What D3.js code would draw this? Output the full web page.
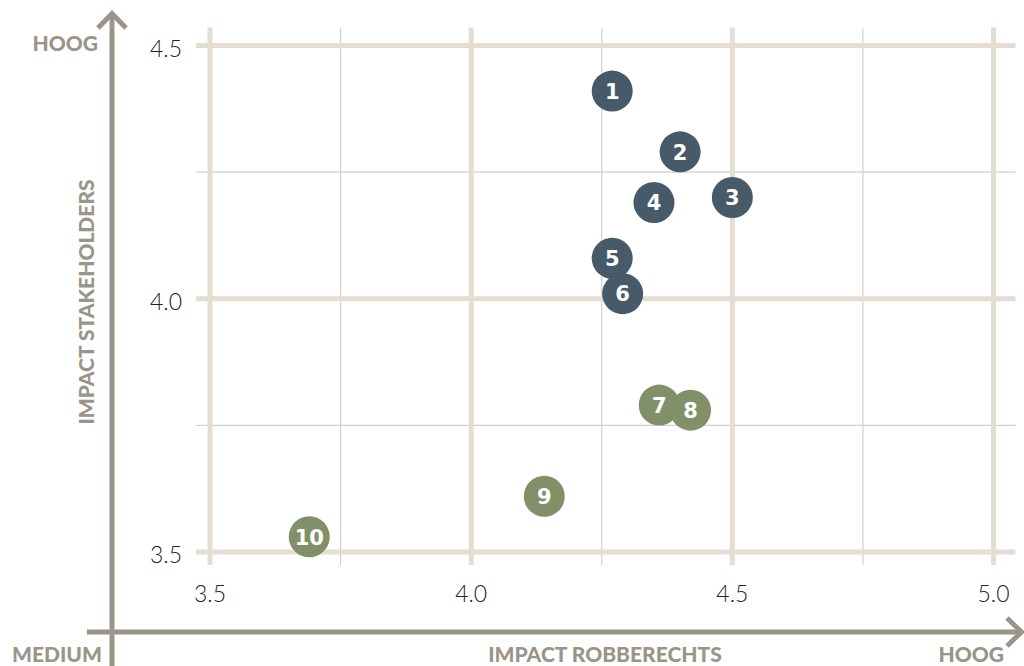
<!DOCTYPE html>
<html lang="nl">
<head>
    <meta charset="UTF-8">
    <title>Impact matrix</title>
    <script src="https://d3js.org/d3.v7.min.js"></script>
    <style>
        body {
            margin: 0;
            background: #fff;
        }

        svg {
            display: block;
        }

        .tick-label {
            font-family: Lato, "Open Sans", sans-serif;
            font-weight: 300;
            font-size: 23px;
            fill: #222;
        }

        .axis-label {
            font-family: Lato, "Open Sans", sans-serif;
            font-weight: 900;
            font-size: 21px;
            fill: #9b9488;
        }
    </style>
</head>
<body>
    <div id="chart"></div>

    <script>
        // data
        const ids = [1, 2, 3, 4, 5, 6, 7, 8, 9, 10];
        const robberechts = [4.27, 4.40, 4.50, 4.35, 4.27, 4.29, 4.36, 4.42, 4.14, 3.69];
        const stakeholders = [4.41, 4.29, 4.20, 4.19, 4.08, 4.01, 3.79, 3.78, 3.61, 3.53];
        const groups = ["top", "top", "top", "top", "top", "top", "mid", "mid", "mid", "mid"];

        const majorTicks = [3.5, 4.0, 4.5, 5.0];
        const minorTicks = [3.75, 4.25, 4.75];
        const yMajorTicks = [3.5, 4.0, 4.5];
        const yMinorTicks = [3.75, 4.25];

        const width = 1024;
        const height = 666;

        const x = d3.scaleLinear().domain([3.5, 5.0]).range([210, 993.5]);
        const y = d3.scaleLinear().domain([3.5, 4.5]).range([552, 45.5]);

        const color = d3.scaleOrdinal()
            .domain(["top", "mid"])
            .range(["#475a6a", "#82906a"]);

        const svg = d3.select("#chart").append("svg")
            .attr("width", width)
            .attr("height", height);

        const grid = svg.append("g");
        const [x0, x1] = x.range();
        const [y0, y1] = y.range();   // y0 bottom, y1 top

        // thin minor lines
        grid.selectAll("line.vminor")
            .data(minorTicks)
            .enter().append("line")
            .attr("x1", d => x(d)).attr("x2", d => x(d))
            .attr("y1", y1 - 17).attr("y2", y0 + 13)
            .attr("stroke", "#d2d0cc")
            .attr("stroke-width", 1.2);

        grid.selectAll("line.hminor")
            .data(yMinorTicks)
            .enter().append("line")
            .attr("x1", x0 - 14).attr("x2", x1 + 22)
            .attr("y1", d => y(d)).attr("y2", d => y(d))
            .attr("stroke", "#d2d0cc")
            .attr("stroke-width", 1.2);

        // thick beige major lines
        grid.selectAll("line.vmajor")
            .data(majorTicks)
            .enter().append("line")
            .attr("x1", d => x(d)).attr("x2", d => x(d))
            .attr("y1", y1 - 18).attr("y2", y0 + 13)
            .attr("stroke", "#e6ddd1")
            .attr("stroke-width", 5);

        grid.selectAll("line.hmajor")
            .data(yMajorTicks)
            .enter().append("line")
            .attr("x1", x0 - 14).attr("x2", x1 + 22)
            .attr("y1", d => y(d)).attr("y2", d => y(d))
            .attr("stroke", "#e6ddd1")
            .attr("stroke-width", 5);

        // tick labels
        svg.append("g").selectAll("text")
            .data(majorTicks)
            .enter().append("text")
            .attr("class", "tick-label")
            .attr("x", d => x(d))
            .attr("y", 602)
            .attr("text-anchor", "middle")
            .text(d => d.toFixed(1));

        svg.append("g").selectAll("text")
            .data(yMajorTicks)
            .enter().append("text")
            .attr("class", "tick-label")
            .attr("x", 182)
            .attr("y", d => y(d) + 11)
            .attr("text-anchor", "end")
            .text(d => d.toFixed(1));

        // brown axis arrows
        const axisColor = "#9b9488";
        svg.append("line")
            .attr("x1", 112).attr("x2", 112)
            .attr("y1", 666).attr("y2", 14)
            .attr("stroke", axisColor).attr("stroke-width", 5);
        svg.append("path")
            .attr("d", "M98,28 L112,13.5 L126,28")
            .attr("fill", "none")
            .attr("stroke", axisColor).attr("stroke-width", 5);

        svg.append("line")
            .attr("x1", 87).attr("x2", 1021)
            .attr("y1", 632).attr("y2", 632)
            .attr("stroke", axisColor).attr("stroke-width", 5);
        svg.append("path")
            .attr("d", "M1007,618 L1021.5,632 L1007,646")
            .attr("fill", "none")
            .attr("stroke", axisColor).attr("stroke-width", 5);

        // axis labels
        svg.append("text").attr("class", "axis-label")
            .attr("x", 98).attr("y", 51).attr("text-anchor", "end")
            .text("HOOG");
        svg.append("text").attr("class", "axis-label")
            .attr("x", 102).attr("y", 662).attr("text-anchor", "end")
            .text("MEDIUM");
        svg.append("text").attr("class", "axis-label")
            .attr("x", 605).attr("y", 662).attr("text-anchor", "middle")
            .text("IMPACT ROBBERECHTS");
        svg.append("text").attr("class", "axis-label")
            .attr("x", 1004).attr("y", 662).attr("text-anchor", "end")
            .text("HOOG");
        svg.append("text").attr("class", "axis-label")
            .attr("transform", "translate(94,302) rotate(-90)")
            .attr("text-anchor", "middle")
            .text("IMPACT STAKEHOLDERS");

        // points
        const point = svg.append("g").selectAll("g")
            .data(ids)
            .enter().append("g")
            .attr("transform", (d, i) => `translate(${x(robberechts[i])},${y(stakeholders[i])})`);

        point.append("circle")
            .attr("r", 20.5)
            .attr("fill", (d, i) => color(groups[i]));

        point.append("text")
            .attr("text-anchor", "middle")
            .attr("dy", "0.37em")
            .style("font-family", "'DejaVu Sans', sans-serif")
            .style("font-weight", "bold")
            .style("font-size", "21px")
            .style("fill", "#fff")
            .text(d => d);
    </script>
</body>
</html>
